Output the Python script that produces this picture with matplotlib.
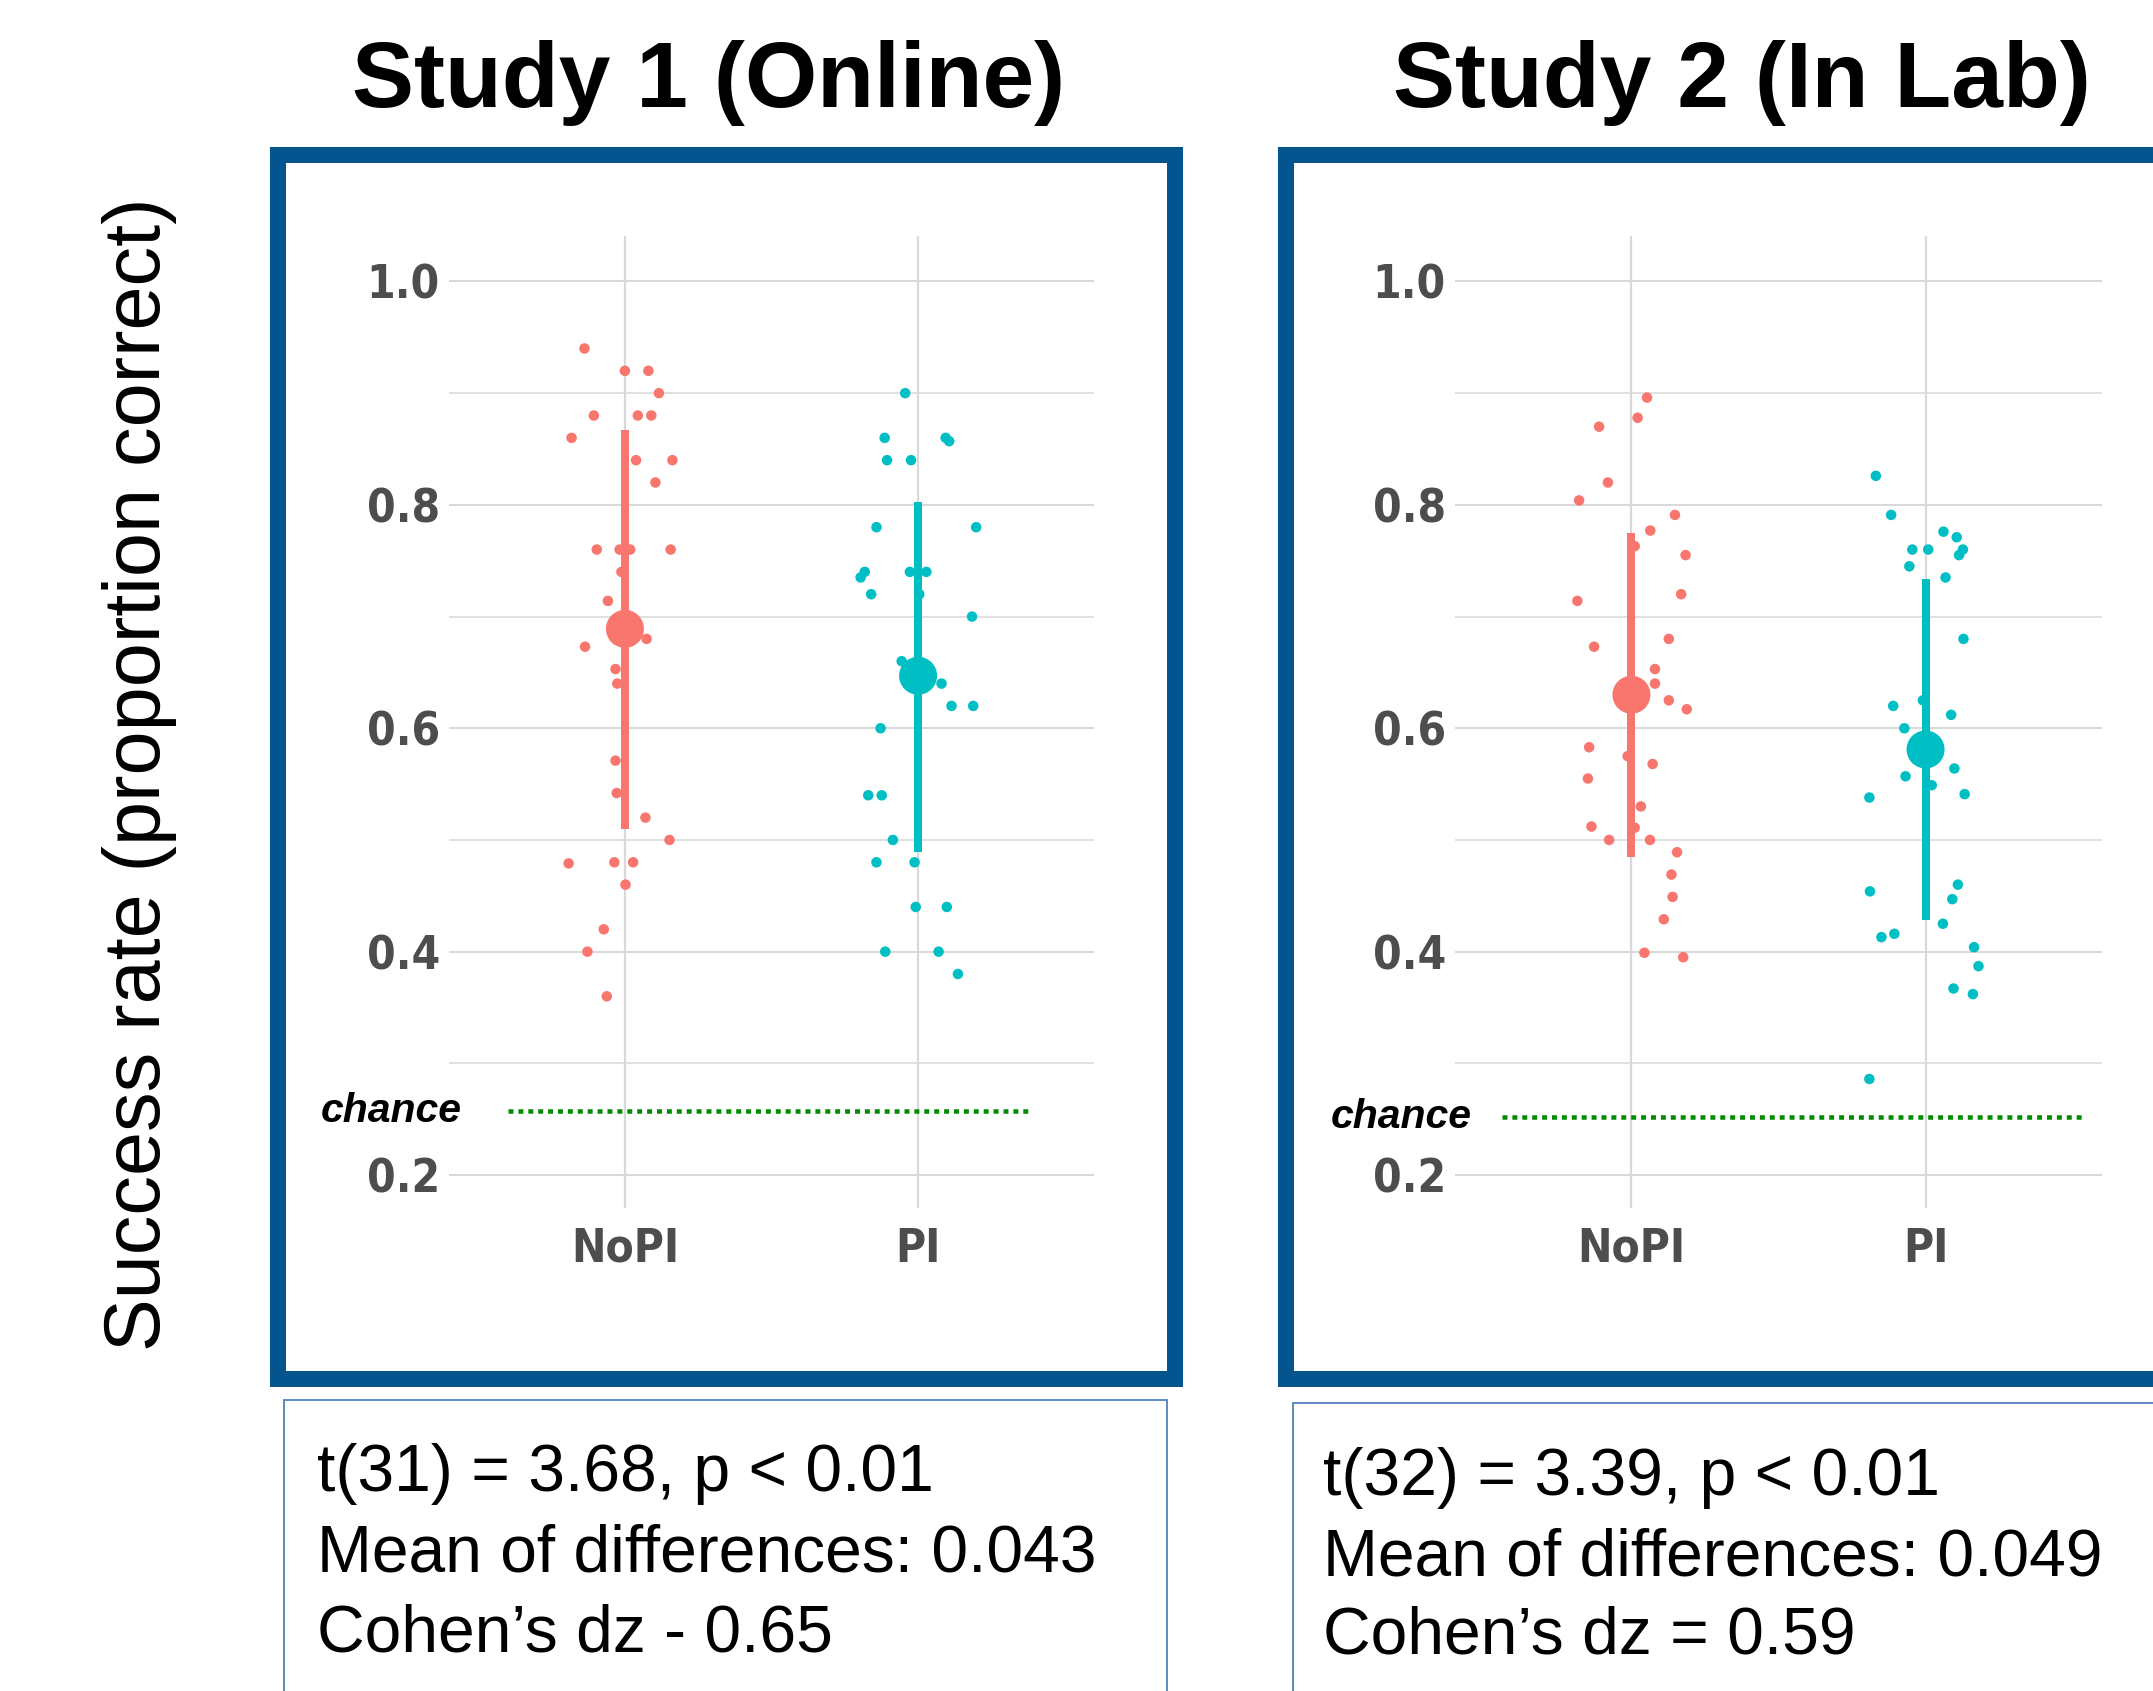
import matplotlib
matplotlib.use('Agg')
import matplotlib.pyplot as plt
import matplotlib.transforms as mtransforms
from matplotlib.patches import Rectangle
from matplotlib import font_manager
from matplotlib.font_manager import FontProperties

W, H, DPI = 2153, 1691, 100

# ---------------- data ----------------
conditions = ['NoPI', 'PI']
titles = ['Study 1 (Online)', 'Study 2 (In Lab)']
y_label = 'Success rate (proportion correct)'
y_ticks = [0.2, 0.4, 0.6, 0.8, 1.0]
y_tick_labels = ['0.2', '0.4', '0.6', '0.8', '1.0']
y_minor = [0.3, 0.5, 0.7, 0.9]
chance_level = [0.257, 0.252]
chance_span = [(0.60, 2.38), (0.56, 2.54)]

stats_text = [
    ["t(31) = 3.68, p < 0.01", "Mean of differences: 0.043", "Cohen\u2019s dz - 0.65"],
    ["t(32) = 3.39, p < 0.01", "Mean of differences: 0.049", "Cohen\u2019s dz = 0.59"],
]

# Study 1
s1_nopi_vals = [0.94, 0.92, 0.92, 0.90, 0.88, 0.88, 0.88, 0.86, 0.84, 0.84, 0.82,
                0.76, 0.76, 0.76, 0.76, 0.74, 0.714, 0.673, 0.68, 0.653, 0.64,
                0.571, 0.542, 0.52, 0.50, 0.479, 0.48, 0.48, 0.46, 0.42, 0.40, 0.36]
s1_nopi_jit = [-0.138, 0.0, 0.08, 0.116, -0.106, 0.044, 0.09, -0.182, 0.038, 0.162, 0.104,
               -0.096, -0.018, 0.018, 0.156, -0.012, -0.058, -0.136, 0.074, -0.032, -0.026,
               -0.032, -0.028, 0.07, 0.152, -0.192, -0.036, 0.028, 0.002, -0.072, -0.128, -0.062]
s1_pi_vals = [0.90, 0.86, 0.86, 0.857, 0.84, 0.84, 0.78, 0.78, 0.74, 0.735, 0.74, 0.74,
              0.72, 0.72, 0.70, 0.66, 0.64, 0.62, 0.62, 0.60, 0.54, 0.54, 0.50, 0.48,
              0.48, 0.44, 0.44, 0.40, 0.40, 0.38]
s1_pi_jit = [-0.044, -0.114, 0.094, 0.106, -0.106, -0.024, -0.142, 0.198, -0.182, -0.196,
             -0.028, 0.028, -0.160, 0.004, 0.184, -0.056, 0.08, 0.114, 0.188, -0.128,
             -0.170, -0.124, -0.086, -0.142, -0.012, -0.008, 0.098, -0.112, 0.07, 0.136]

# Study 2
s2_nopi_vals = [0.896, 0.878, 0.870, 0.820, 0.804, 0.791, 0.777, 0.763, 0.755, 0.714,
                0.720, 0.673, 0.680, 0.653, 0.640, 0.625, 0.617, 0.583, 0.575, 0.555,
                0.568, 0.530, 0.512, 0.511, 0.500, 0.500, 0.489, 0.469, 0.449, 0.429,
                0.399, 0.395]
s2_nopi_jit = [0.053, 0.021, -0.110, -0.080, -0.178, 0.148, 0.064, 0.011, 0.184, -0.184,
               0.169, -0.127, 0.127, 0.080, 0.080, 0.127, 0.188, -0.144, -0.013, -0.148,
               0.072, 0.032, -0.136, 0.011, -0.076, 0.063, 0.155, 0.136, 0.140, 0.110,
               0.044, 0.176]
s2_pi_vals = [0.826, 0.791, 0.776, 0.771, 0.760, 0.760, 0.760, 0.755, 0.745, 0.735,
              0.680, 0.625, 0.620, 0.612, 0.600, 0.564, 0.557, 0.549, 0.538, 0.541,
              0.460, 0.454, 0.447, 0.425, 0.416, 0.413, 0.404, 0.387, 0.367, 0.362, 0.286]
s2_pi_jit = [-0.169, -0.117, 0.061, 0.106, -0.045, 0.009, 0.127, 0.114, -0.055, 0.068,
             0.129, -0.009, -0.110, 0.087, -0.072, 0.098, -0.068, 0.021, -0.191, 0.133,
             0.110, -0.189, 0.091, 0.059, -0.106, -0.150, 0.165, 0.180, 0.095, 0.161, -0.191]

# summary (mean, lower, upper)
s1_mean = [0.689, 0.647]
s1_low = [0.510, 0.489]
s1_high = [0.867, 0.803]
s2_mean = [0.630, 0.581]
s2_low = [0.485, 0.428]
s2_high = [0.775, 0.734]

studies = [
    dict(vals=[s1_nopi_vals, s1_pi_vals], jit=[s1_nopi_jit, s1_pi_jit],
         mean=s1_mean, low=s1_low, high=s1_high),
    dict(vals=[s2_nopi_vals, s2_pi_vals], jit=[s2_nopi_jit, s2_pi_jit],
         mean=s2_mean, low=s2_low, high=s2_high),
]

# ---------------- style ----------------
colors = ['#F8766D', '#00BFC4']
frame_blue = '#03548F'
box_blue = '#4F82B8'
grid_col = '#D9D9D9'
tick_col = '#4D4D4D'
sans = ['Liberation Sans', 'DejaVu Sans']
plt.rcParams['font.family'] = sans


def find_narrow_bold():
    """Pick a condensed / narrow bold font file if one is installed."""
    prefs = ['liberationsansnarrow-bold.', 'arialnarrowbold', 'arial narrow bold',
             'notosans-condensedbold', 'notosans-semicondensedbold',
             'dejavusanscondensed-bold', 'robotocondensed-bold', 'opensans-condensedbold']
    files = [f.fname for f in font_manager.fontManager.ttflist]
    for p in prefs:
        for fn in files:
            base = fn.replace('\\', '/').split('/')[-1].lower()
            if base.startswith(p) or p in base:
                return fn
    for f in font_manager.fontManager.ttflist:
        n = (f.name + ' ' + f.fname).lower()
        if ('narrow' in n or 'condensed' in n) and 'italic' not in n and 'oblique' not in n \
                and (f.weight in ('bold', 700) or 'bold' in n) and 'extra' not in n:
            return f.fname
    return None


narrow_file = find_narrow_bold()


def tick_font(size):
    if narrow_file:
        return FontProperties(fname=narrow_file, size=size)
    return FontProperties(family=sans, weight='bold', size=size * 0.92)


fig = plt.figure(figsize=(W / DPI, H / DPI), dpi=DPI)


def fx(x):
    return x / W


def fy(y):
    return 1 - y / H


def px(p):  # pixels -> points
    return p * 72 / DPI


def band(x0, y0, x1, y1, color):
    fig.patches.append(Rectangle((fx(x0), fy(y1)), fx(x1 - x0), (y1 - y0) / H,
                                 transform=fig.transFigure, facecolor=color,
                                 edgecolor='none', zorder=1))


# panel geometry in pixels
panel_left = [449, 1455]
panel_right = [1094, 2102]
panel_top, panel_bottom = 236, 1208
frame_left = [270, 1278]
frame_right = [1183, 2200]
frame_top, frame_bottom, frame_w = 147, 1387, 16
title_x = [709, 1742]
chance_text_right = [462, 1472]
box_left = [284, 1293]
box_top = [1400, 1403]
text_left = [317, 1323]
text_base = [[1491, 1571, 1651], [1495, 1575, 1654]]

for i, st in enumerate(studies):
    ax = fig.add_axes([fx(panel_left[i]), fy(panel_bottom),
                       fx(panel_right[i] - panel_left[i]), (panel_bottom - panel_top) / H])
    ax.set_xlim(0.4, 2.6)
    ax.set_ylim(0.1705, 1.0407)
    for s in ax.spines.values():
        s.set_visible(False)
    ax.set_facecolor('none')
    # gridlines
    for yv in y_ticks:
        ax.axhline(yv, color=grid_col, lw=px(2.0), zorder=0)
    for yv in y_minor:
        ax.axhline(yv, color=grid_col, lw=px(1.6), zorder=0)
    for k in range(len(conditions)):
        ax.axvline(k + 1, color=grid_col, lw=px(2.2), zorder=0)

    ax.set_yticks(y_ticks)
    ax.set_yticklabels(y_tick_labels)
    ax.set_xticks([1, 2])
    ax.set_xticklabels(conditions)
    ax.tick_params(axis='both', length=0, colors=tick_col)
    ax.tick_params(axis='y', pad=px(9))
    ax.tick_params(axis='x', pad=px(19))
    for lab in ax.get_yticklabels() + ax.get_xticklabels():
        lab.set_fontproperties(tick_font(33))
        lab.set_fontweight('bold')
        lab.set_color(tick_col)

    for k in range(len(conditions)):
        xs = [k + 1 + j for j in st['jit'][k]]
        ax.scatter(xs, st['vals'][k], s=px(10.5) ** 2, color=colors[k],
                   edgecolors='none', zorder=3)
        ax.plot([k + 1, k + 1], [st['low'][k], st['high'][k]], color=colors[k],
                lw=px(8), solid_capstyle='butt', zorder=4)
        ax.scatter([k + 1], [st['mean'][k]], s=px(38) ** 2, color=colors[k],
                   edgecolors='none', zorder=5)

    # chance line
    x0, x1 = chance_span[i]
    ax.plot([x0, x1], [chance_level[i], chance_level[i]], color='#008B00',
            lw=px(4.5), linestyle=(0, (1.1, 1.1)), dash_capstyle='butt', zorder=2)
    ax.text(fx(chance_text_right[i]), chance_level[i], 'chance',
            transform=mtransforms.blended_transform_factory(fig.transFigure, ax.transData),
            ha='right', va='center', fontsize=29.5, fontweight='bold', fontstyle='italic',
            color='black', family=sans)

    # title
    fig.text(fx(title_x[i]), fy(107), titles[i], ha='center', va='baseline',
             fontsize=67, fontweight='bold', color='black')

    # thick blue frame drawn as four bands
    L, R = frame_left[i], frame_right[i]
    band(L, frame_top, R, frame_top + frame_w, frame_blue)
    band(L, frame_bottom - frame_w, R, frame_bottom, frame_blue)
    band(L, frame_top, L + frame_w, frame_bottom, frame_blue)
    band(R - frame_w, frame_top, R, frame_bottom, frame_blue)

    # thin stats box
    fig.patches.append(Rectangle((fx(box_left[i]), fy(H + 20)),
                                 fx(1167 - 284), (H + 20 - box_top[i]) / H,
                                 transform=fig.transFigure, fill=False,
                                 edgecolor=box_blue, linewidth=px(1.8), zorder=1))
    for line, yb in zip(stats_text[i], text_base[i]):
        fig.text(fx(text_left[i]), fy(yb), line, ha='left', va='baseline',
                 fontsize=47.5, color='black')

fig.text(fx(140), fy(774), y_label, rotation=90, ha='center', va='center',
         fontsize=57, color='black')

fig.savefig('out.png', dpi=DPI, facecolor='white')
